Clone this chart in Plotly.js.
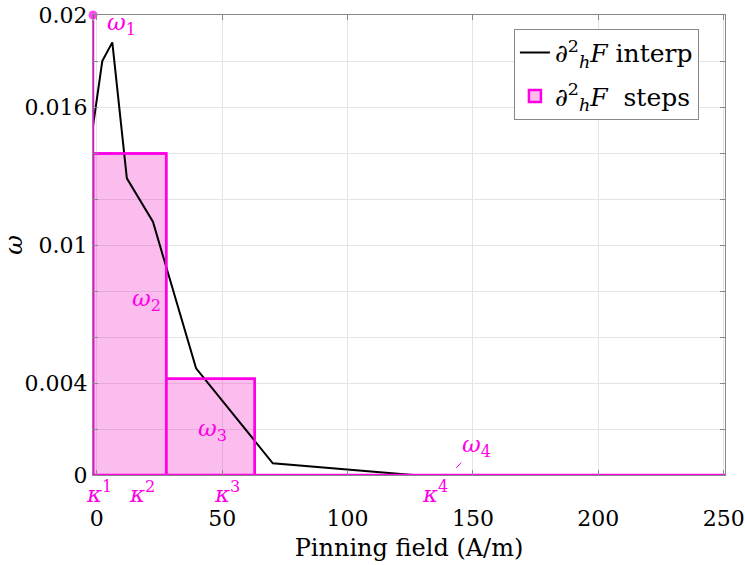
<!DOCTYPE html>
<html><head><meta charset="utf-8">
<script src="https://cdn.plot.ly/plotly-3.0.1.min.js"></script>
<style>body{margin:0;padding:0;background:#fff}#chart{width:745px;height:565px}</style>
</head><body><div id="chart"></div>
<script>
// Interpolated second derivative curve
const interpX = [-1.5, 2.2, 6.2, 12.0, 22.4, 39.6, 70.2, 126, 250];
const interpY = [0.01517, 0.0180, 0.01881, 0.0129, 0.01101, 0.00464, 0.00051, 0.0, 0.0];
// Step edges (kappa) and heights (omega)
const kappa = [-1.5, 27.7, 63.0, 126.0, 250.5];
const omegaSteps = [0.01398, 0.00418, 0.0, 0.0];
const omega1 = 0.02; // point mass at kappa^1
const yTickVals = [0, 0.002, 0.004, 0.006, 0.008, 0.01, 0.012, 0.014, 0.016, 0.018, 0.02];
const yTickText = ['0', ' ', '0.004', ' ', ' ', '0.01', ' ', ' ', '0.016', ' ', '0.02'];
const xTickVals = [0, 50, 100, 150, 200, 250];

const MAG = '#ff00e6';
const FONT = 'DejaVu Serif';

const barX = [], barW = [];
for (let i = 0; i < 2; i++) { barX.push((kappa[i] + kappa[i+1]) / 2); barW.push(kappa[i+1] - kappa[i]); }

// step outline
const stepX = kappa.slice();
const stepY = omegaSteps.concat([omegaSteps[omegaSteps.length-1]]);

const traces = [
  {x: interpX, y: interpY, type: 'scatter', mode: 'lines', line: {color: '#000', width: 2},
   name: '∂<sup>2</sup><sub><i>h</i></sub><i>F</i> interp', cliponaxis: false, legendgroup: 'a'},
  {x: barX, y: omegaSteps.slice(0, 2), width: barW, type: 'bar', base: 0,
   marker: {color: 'rgba(240,0,185,0.26)', line: {color: MAG, width: 2.5}},
   name: '∂<sup>2</sup><sub><i>h</i></sub><i>F</i>  steps', legendgroup: 'b'},
  {x: stepX, y: stepY, type: 'scatter', mode: 'lines', line: {color: MAG, width: 2.5, shape: 'hv'},
   showlegend: false, cliponaxis: false},
  {x: [kappa[0], kappa[0]], y: [0, omega1], type: 'scatter', mode: 'lines+markers',
   line: {color: MAG, width: 2.5}, marker: {color: MAG, size: [0, 10]}, showlegend: false, cliponaxis: false}
];

const ann = (x, y, t, extra) => Object.assign({x: x, y: y, xref: 'x', yref: 'y', text: t, showarrow: false,
  font: {family: FONT, size: 23, color: MAG}}, extra || {});
const kap = (x, t) => ({x: x, y: -0.038, xref: 'x', yref: 'paper', yanchor: 'middle', xanchor: 'center',
  text: t, showarrow: false, font: {family: FONT, size: 23, color: MAG}});

const annotations = [
  ann(10, 0.0196, '<i>ω</i><sub>1</sub>'),
  ann(19.7, 0.0076, '<i>ω</i><sub>2</sub>'),
  ann(46, 0.00196, '<i>ω</i><sub>3</sub>'),
  ann(143.3, 0.0003, '<i>ω</i><sub>4</sub>', {showarrow: true, arrowhead: 0, arrowwidth: 1, arrowcolor: MAG, ax: 20, ay: -22}),
  kap(1, '<i>κ</i><sup>1</sup>'),
  kap(18, '<i>κ</i><sup>2</sup>'),
  kap(52, '<i>κ</i><sup>3</sup>'),
  kap(135, '<i>κ</i><sup>4</sup>')
];

const layout = {
  width: 745, height: 565,
  margin: {l: 93, r: 20, t: 15, b: 90},
  paper_bgcolor: '#fff', plot_bgcolor: '#fff',
  font: {family: FONT, size: 22, color: '#000'},
  showlegend: true,
  legend: {x: 0.666, y: 0.97, xanchor: 'left', yanchor: 'top', bordercolor: '#888', borderwidth: 1,
    bgcolor: '#fff', font: {family: FONT, size: 25}, traceorder: 'grouped', tracegroupgap: 8},
  xaxis: {range: [-1.5, 250.5], tickvals: xTickVals, ticktext: xTickVals.map(String),
    showgrid: true, gridcolor: '#e4e4e4', zeroline: false, showline: true, linecolor: '#888', mirror: 'ticks',
    ticks: 'inside', ticklen: 5, tickcolor: '#888', tickfont: {family: FONT, size: 22}, ticklabelstandoff: 24,
    title: {text: 'Pinning field (A/m)', font: {family: FONT, size: 24}, standoff: 8}},
  yaxis: {range: [0, 0.02], tickvals: yTickVals, ticktext: yTickText,
    showgrid: true, gridcolor: '#e4e4e4', zeroline: false, showline: true, linecolor: '#888', mirror: 'ticks',
    ticks: 'inside', ticklen: 5, tickcolor: '#888', tickfont: {family: FONT, size: 22},
    title: {text: '<i>ω</i>', font: {family: FONT, size: 24}, standoff: 10}},
  annotations: annotations,
  bargap: 0
};

Plotly.newPlot('chart', traces, layout, {displayModeBar: false, staticPlot: true});
</script></body></html>
